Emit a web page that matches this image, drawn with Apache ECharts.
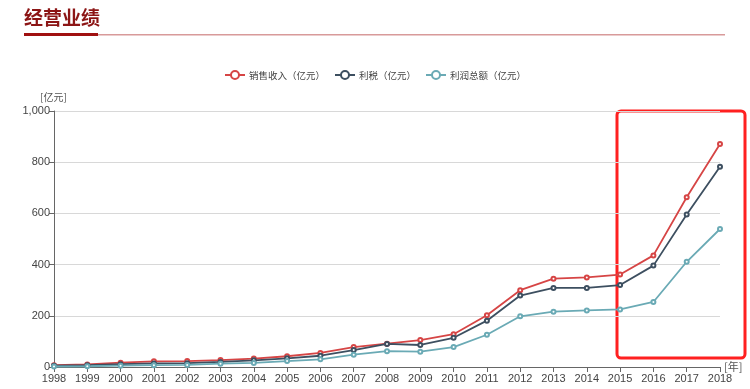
<!DOCTYPE html>
<html><head><meta charset="utf-8">
<script src="https://cdn.jsdelivr.net/npm/echarts@6/dist/echarts.min.js"></script>
<style>html,body{margin:0;padding:0;background:#fff}#c{width:750px;height:389px}</style>
</head><body><div id="c"></div>
<script>
var years = ['1998','1999','2000','2001','2002','2003','2004','2005','2006','2007','2008','2009','2010','2011','2012','2013','2014','2015','2016','2017','2018'];
var sales = [7,10,17,22,23,27,33,42,55,78,91,105,128,202,300,345,350,361,436,663,871];
var taxProfit = [5,7,11,14,15,20,26,34,44,66,90,86,114,181,279,309,309,320,396,596,782];
var totalProfit = [2,3,5,7,8,13,16,23,30,48,62,60,78,126,198,216,221,225,254,411,539];
var seriesNames = ['销售收入（亿元）','利税（亿元）','利润总额（亿元）'];
var colors = ['#d64545','#3d4f60','#6aaab5'];

var chart = echarts.init(document.getElementById('c'));
function mk(name, data, color){
  return {name:name, type:'line', data:data, symbol:'emptyCircle', symbolSize:4,
    itemStyle:{color:color}, lineStyle:{color:color, width:1.8}};
}
chart.setOption({
  animation:false,
  color: colors,
  graphic:[
    {type:'text', left:24, top:8, style:{text:'经营业绩', font:'bold 19px "Noto Sans CJK SC"', fill:'#8c1515'}},
    {type:'rect', shape:{x:25,y:34,width:700,height:1.5}, style:{fill:'#d89a9a'}},
    {type:'rect', shape:{x:24,y:33,width:74,height:3}, style:{fill:'#a01010'}},
    {type:'rect', shape:{x:617,y:111,width:128,height:247,r:4}, style:{fill:'none', stroke:'#ff2020', lineWidth:3}}
  ],
  legend:{top:65, left:'center', itemWidth:20, itemHeight:10, itemGap:9,
    textStyle:{fontSize:9.5, color:'#444', fontFamily:'Noto Sans CJK SC', padding:[0,0,0,-1]},
    data:seriesNames},
  grid:{left:54, right:30, top:111, bottom:22, containLabel:false},
  xAxis:{type:'category', data:years, boundaryGap:false, name:'[年]', nameGap:4,
    nameTextStyle:{fontSize:11, color:'#555', fontFamily:'Noto Sans CJK SC', padding:[14,0,0,0]},
    axisLine:{lineStyle:{color:'#666'}}, axisTick:{alignWithLabel:true, lineStyle:{color:'#666'}},
    axisLabel:{fontSize:11, color:'#444', margin:6, interval:0}},
  yAxis:{type:'value', min:0, max:1000, interval:200, name:'[亿元]', nameGap:9,
    nameTextStyle:{fontSize:10, color:'#555', fontFamily:'Noto Sans CJK SC', align:'left', padding:[0,0,0,-14]},
    axisLine:{show:true, lineStyle:{color:'#666'}}, axisTick:{show:true, lineStyle:{color:'#666'}},
    axisLabel:{fontSize:11, color:'#444', margin:4},
    splitLine:{lineStyle:{color:'#d8d8d8'}}},
  series:[mk(seriesNames[0], sales, colors[0]), mk(seriesNames[1], taxProfit, colors[1]), mk(seriesNames[2], totalProfit, colors[2])]
});
</script></body></html>
